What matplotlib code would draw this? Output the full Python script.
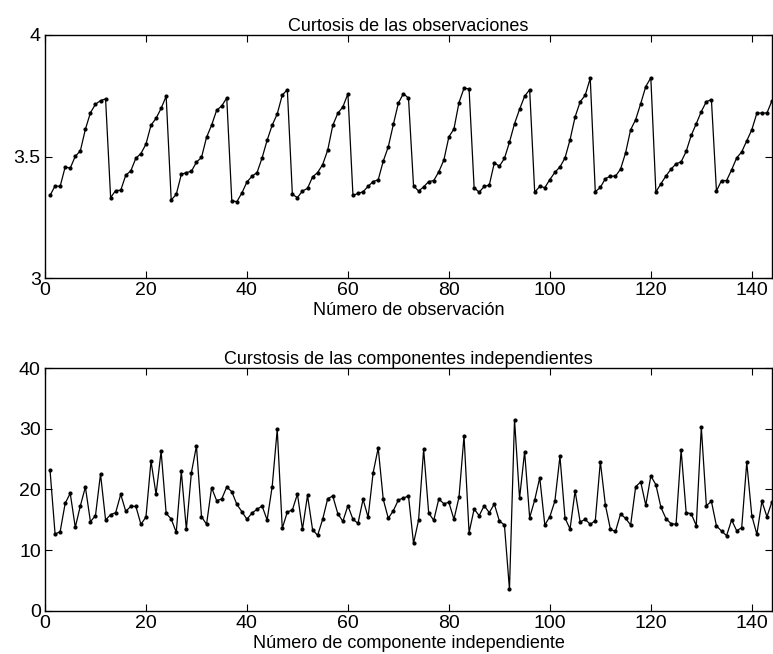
import numpy as np
import matplotlib
matplotlib.use("Agg")
import matplotlib.pyplot as plt

plt.rcParams["font.family"] = ["Liberation Sans Narrow", "Liberation Sans", "DejaVu Sans"]

# curtosis de las observaciones (1..144)
obs_kurt = [
    3.340, 3.379, 3.377, 3.457, 3.452, 3.501, 3.523, 3.612, 3.680, 3.715, 3.730, 3.737,
    3.331, 3.360, 3.361, 3.423, 3.441, 3.493, 3.512, 3.551, 3.629, 3.657, 3.698, 3.748,
    3.321, 3.344, 3.426, 3.434, 3.439, 3.477, 3.496, 3.579, 3.629, 3.690, 3.708, 3.741,
    3.318, 3.314, 3.350, 3.395, 3.419, 3.434, 3.494, 3.567, 3.629, 3.675, 3.753, 3.775,
    3.344, 3.331, 3.358, 3.369, 3.416, 3.434, 3.467, 3.526, 3.628, 3.678, 3.704, 3.758,
    3.340, 3.348, 3.355, 3.377, 3.397, 3.404, 3.481, 3.540, 3.632, 3.720, 3.759, 3.740,
    3.379, 3.358, 3.375, 3.397, 3.401, 3.437, 3.485, 3.581, 3.613, 3.722, 3.781, 3.778,
    3.372, 3.353, 3.377, 3.382, 3.474, 3.460, 3.492, 3.559, 3.635, 3.694, 3.748, 3.775,
    3.353, 3.377, 3.372, 3.405, 3.435, 3.457, 3.494, 3.569, 3.663, 3.725, 3.752, 3.822,
    3.355, 3.373, 3.409, 3.419, 3.419, 3.448, 3.515, 3.610, 3.652, 3.718, 3.788, 3.824,
    3.354, 3.388, 3.420, 3.448, 3.470, 3.478, 3.521, 3.587, 3.635, 3.685, 3.726, 3.734,
    3.358, 3.401, 3.401, 3.445, 3.494, 3.519, 3.565, 3.610, 3.678, 3.679, 3.679, 3.730,
]

# curtosis de las componentes independientes (1..144)
ic_kurt = [
    23.16, 12.65, 13.04, 17.72, 19.37, 13.76, 17.28, 20.41, 14.69, 15.68, 22.56, 14.97,
    15.85, 16.18, 19.20, 16.40, 17.22, 17.22, 14.25, 15.46, 24.70, 19.20, 26.30, 16.07,
    15.13, 12.93, 23.00, 13.42, 22.78, 27.18, 15.52, 14.25, 20.30, 18.16, 18.43, 20.41,
    19.64, 17.55, 16.34, 15.08, 16.12, 16.73, 17.28, 14.97, 20.47, 29.93, 13.59, 16.29,
    16.62, 19.26, 13.42, 19.04, 13.37, 12.43, 15.08, 18.49, 18.93, 16.01, 14.75, 17.33,
    15.08, 14.42, 18.38, 15.41, 22.78, 26.85, 18.38, 15.24, 16.51, 18.27, 18.60, 18.93,
    11.11, 14.97, 26.63, 16.12, 14.91, 18.43, 17.66, 17.88, 15.08, 18.71, 28.83, 12.87,
    16.78, 15.68, 17.33, 16.18, 17.61, 14.80, 14.14, 3.52, 31.53, 18.54, 26.24, 15.35,
    18.27, 21.95, 14.14, 15.52, 18.10, 25.47, 15.30, 13.48, 19.75, 14.64, 15.08, 14.25,
    14.86, 24.59, 17.44, 13.42, 13.09, 15.96, 15.24, 14.14, 20.47, 21.24, 17.39, 22.23,
    20.80, 17.06, 15.19, 14.36, 14.25, 26.52, 16.18, 16.01, 14.03, 30.26, 17.33, 18.05,
    13.98, 13.15, 12.38, 14.97, 13.20, 13.70, 24.48, 15.68, 12.60, 18.05, 15.50, 18.00,
]

idx = np.arange(1, len(obs_kurt) + 1)

fig = plt.figure(figsize=(7.73, 6.54), dpi=100)
ax1 = fig.add_axes([0.0582, 0.5749, 0.9405, 0.3716])
ax2 = fig.add_axes([0.0582, 0.0662, 0.9405, 0.3707])


def style(ax):
    ax.set_xlim(0, 144)
    ax.set_xticks(range(0, 141, 20))
    ax.tick_params(direction="in", top=True, right=True, length=5, width=0.8,
                   labelsize=14, pad=3)
    for s in ax.spines.values():
        s.set_linewidth(1.0)


ax1.plot(idx, obs_kurt, "k-", lw=0.9, marker=".", ms=4)
ax1.set_ylim(3, 4)
ax1.set_yticks([3, 3.5, 4])
ax1.set_yticklabels(["3", "3.5", "4"])
style(ax1)
ax1.set_title("Curtosis de las observaciones", fontsize=13, pad=3)
ax1.set_xlabel("Número de observación", fontsize=13, labelpad=2)

ax2.plot(idx, ic_kurt, "k-", lw=0.9, marker=".", ms=4)
ax2.set_ylim(0, 40)
ax2.set_yticks([0, 10, 20, 30, 40])
style(ax2)
ax2.set_title("Curstosis de las componentes independientes", fontsize=13, pad=3)
ax2.set_xlabel("Número de componente independiente", fontsize=13, labelpad=2)

fig.savefig("out.png", dpi=100)
